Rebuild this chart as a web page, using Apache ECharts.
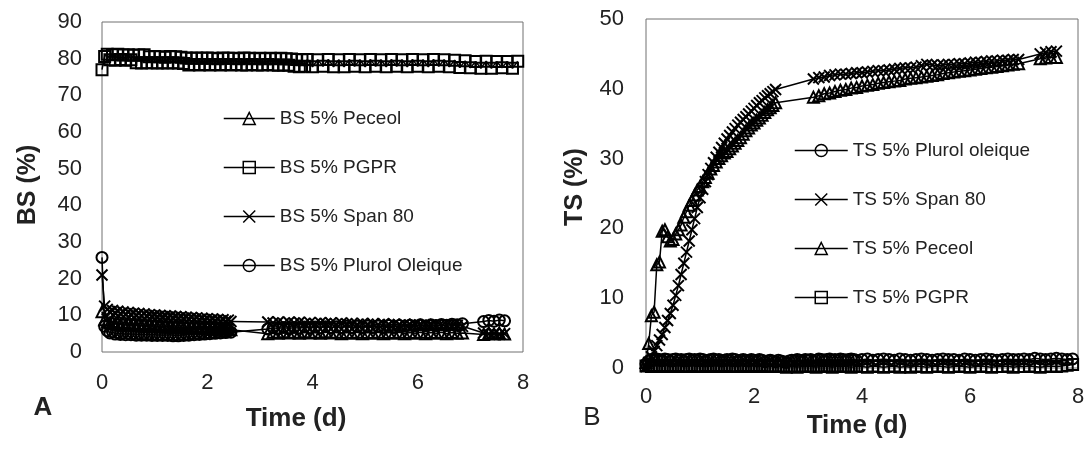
<!DOCTYPE html>
<html>
<head>
<meta charset="utf-8">
<script src="https://cdn.jsdelivr.net/npm/echarts@6/dist/echarts.min.js"></script>
<style>
html,body{margin:0;padding:0;background:#fff;}
#chart{width:1091px;height:450px;}
</style>
</head>
<body>
<div id="chart"></div>
<script>
// ---------- time axes (days) ----------
const tDense = [
  0,0.05,0.1,0.15,0.2,0.25,0.3,0.35,0.4,0.45,
  0.5,0.55,0.6,0.65,0.7,0.75,0.8,0.85,0.9,0.95,
  1,1.05,1.1,1.15,1.2,1.25,1.3,1.35,1.4,1.45,
  1.5,1.55,1.6,1.65,1.7,1.75,1.8,1.85,1.9,1.95,
  2,2.05,2.1,2.15,2.2,2.25,2.3,2.35,2.4,2.45,
  2.5,2.55,2.6,2.65,2.7,2.75,2.8,2.85,2.9,2.95,
  3,3.05,3.1,3.15,3.2,3.25,3.3,3.35,3.4,3.45,
  3.5,3.55,3.6,3.65,3.7,3.75,3.8,3.85,3.9,
  4,4.1,4.2,4.3,4.4,4.5,4.6,4.7,4.8,4.9,
  5,5.1,5.2,5.3,5.4,5.5,5.6,5.7,5.8,5.9,
  6,6.1,6.2,6.3,6.4,6.5,6.6,6.7,6.8,6.9,
  7,7.1,7.2,7.3,7.4,7.5,7.6,7.7,7.8,7.9
];
const tBS = [
  0,0.05,0.1,0.15,0.2,0.25,0.3,0.35,0.4,0.45,
  0.5,0.55,0.6,0.65,0.7,0.75,0.8,0.85,0.9,0.95,
  1,1.05,1.1,1.15,1.2,1.25,1.3,1.35,1.4,1.45,
  1.5,1.55,1.6,1.65,1.7,1.75,1.8,1.85,1.9,1.95,
  2,2.05,2.1,2.15,2.2,2.25,2.3,2.35,2.4,2.45,
  3.15,3.25,3.35,3.45,3.55,3.65,3.75,3.85,3.95,4.05,
  4.15,4.25,4.35,4.45,4.55,4.65,4.75,4.85,4.95,5.05,
  5.15,5.25,5.35,5.45,5.55,5.65,5.75,5.85,5.95,6.05,
  6.15,6.25,6.35,6.45,6.55,6.65,6.75,6.85,
  7.25,7.35,7.45,7.55,7.65
];
const tTS = [
  0,0.05,0.1,0.15,0.2,0.25,0.3,0.35,0.4,0.45,
  0.5,0.55,0.6,0.65,0.7,0.75,0.8,0.85,0.9,0.95,
  1,1.05,1.1,1.15,1.2,1.25,1.3,1.35,1.4,1.45,
  1.5,1.55,1.6,1.65,1.7,1.75,1.8,1.85,1.9,1.95,
  2,2.05,2.1,2.15,2.2,2.25,2.3,2.35,2.4,
  3.1,3.2,3.3,3.4,3.5,3.6,3.7,3.8,3.9,4,
  4.1,4.2,4.3,4.4,4.5,4.6,4.7,4.8,4.9,5,
  5.1,5.2,5.3,5.4,5.5,5.6,5.7,5.8,5.9,6,
  6.1,6.2,6.3,6.4,6.5,6.6,6.7,6.8,6.9,
  7.3,7.4,7.5,7.6
];

// ---------- panel A : BS (%) ----------
const bsPeceol = [
  11.0,8.8,8.2,7.9,8.1,7.7,7.9,7.6,7.8,7.5,
  7.7,7.4,7.6,7.3,7.5,7.2,7.4,7.1,7.3,7.0,
  7.2,6.9,7.1,6.8,7.0,6.8,6.9,6.7,6.9,6.6,
  6.8,6.6,6.8,6.5,6.7,6.5,6.7,6.4,6.6,6.4,
  6.6,6.3,6.5,6.3,6.5,6.2,6.4,6.2,6.4,6.1,
  5.0,5.4,5.1,5.5,5.2,5.4,5.1,5.5,5.2,5.4,
  5.1,5.5,5.2,5.4,5.0,5.3,5.1,5.4,5.0,5.3,
  5.1,5.4,5.0,5.3,5.1,5.4,5.0,5.3,5.1,5.4,
  5.0,5.3,5.1,5.4,5.0,5.3,5.1,5.2,
  4.8,5.1,4.9,5.2,4.9
];
const bsPGPR = [
  77.0,80.6,81.2,79.7,81.1,79.6,81.2,79.8,81.0,79.6,
  81.1,79.7,80.9,78.9,81.0,78.8,81.1,78.9,80.5,78.9,
  80.6,78.8,80.5,78.9,80.4,78.8,80.6,78.9,80.5,78.8,
  80.4,78.7,80.2,78.3,80.1,78.4,80.2,78.3,80.1,78.4,
  80.2,78.3,80.1,78.4,80.0,78.3,80.2,78.4,80.1,78.3,
  80.1,78.4,80.0,78.3,80.2,78.3,80.1,78.4,80.0,78.3,
  80.1,78.3,80.0,78.4,80.1,78.3,80.0,78.2,80.1,78.3,
  80.0,78.2,79.9,77.9,79.8,77.8,79.7,77.9,79.8,
  77.8,79.7,77.9,79.8,77.8,79.7,77.8,79.8,77.9,79.7,
  77.8,79.8,77.9,79.7,77.8,79.8,77.9,79.7,77.8,79.8,
  77.9,79.7,77.8,79.8,77.9,79.7,77.8,79.6,77.6,79.4,
  77.5,79.2,77.4,79.3,77.4,79.2,77.5,79.2,77.4,79.3
];
const bsSpan80 = [
  21.0,12.5,11.6,11.0,11.3,10.7,11.1,10.5,10.9,10.4,
  10.8,10.3,10.6,10.1,10.5,10.0,10.4,9.9,10.2,9.8,
  10.1,9.7,10.0,9.6,9.9,9.5,9.8,9.4,9.7,9.3,
  9.6,9.2,9.5,9.1,9.4,9.0,9.3,8.9,9.2,8.8,
  9.1,8.7,9.0,8.6,8.9,8.5,8.8,8.4,8.7,8.3,
  8.2,7.9,8.2,7.8,8.1,7.9,8.1,7.8,8.0,7.7,
  8.0,7.8,7.9,7.6,7.9,7.7,7.8,7.5,7.8,7.6,
  7.7,7.4,7.7,7.5,7.6,7.3,7.6,7.4,7.5,7.2,
  7.5,7.3,7.4,7.1,7.4,7.2,7.3,7.0,
  5.2,4.9,5.1,4.8,5.0
];
const bsPlurol = [
  25.8,7.0,5.8,5.2,5.5,4.9,5.3,4.8,5.2,4.7,
  5.1,4.7,5.0,4.6,5.0,4.6,4.9,4.6,4.9,4.5,
  4.9,4.5,4.8,4.5,4.8,4.5,4.8,4.4,4.7,4.4,
  4.8,4.5,4.9,4.6,5.0,4.7,5.1,4.8,5.2,4.9,
  5.3,5.0,5.4,5.1,5.5,5.2,5.6,5.3,5.7,5.4,
  6.3,6.6,6.4,6.7,6.4,6.7,6.5,6.8,6.5,6.8,
  6.6,6.9,6.6,6.9,6.7,7.0,6.7,7.0,6.8,7.1,
  6.8,7.1,6.9,7.2,6.9,7.2,7.0,7.3,7.1,7.4,
  7.1,7.4,7.2,7.5,7.3,7.6,7.4,7.7,
  8.3,8.6,8.4,8.7,8.5
];

// ---------- panel B : TS (%) ----------
const tsPlurol = [
  0.6,1.0,1.2,1.1,1.3,1.2,1.1,1.3,1.2,1.0,
  1.2,1.3,1.1,1.2,1.0,1.2,1.3,1.1,1.2,1.1,
  1.3,1.2,1.0,1.1,1.2,1.3,1.1,1.2,1.0,1.1,
  1.2,1.1,1.3,1.2,1.0,1.1,1.2,1.1,1.0,1.2,
  1.1,1.0,1.2,1.1,0.9,1.0,1.1,1.0,0.9,1.1,
  1.0,0.9,0.8,1.0,1.1,1.0,1.2,1.1,1.0,1.2,
  1.1,1.2,1.0,1.1,1.3,1.2,1.1,1.2,1.3,1.1,
  1.2,1.1,1.3,1.2,1.1,1.2,1.3,1.2,1.1,
  1.2,1.3,1.1,1.2,1.3,1.2,1.1,1.3,1.2,1.1,
  1.2,1.3,1.2,1.1,1.2,1.3,1.2,1.2,1.1,1.3,
  1.2,1.1,1.2,1.3,1.2,1.1,1.2,1.3,1.2,1.2,
  1.3,1.2,1.4,1.3,1.2,1.3,1.4,1.3,1.2,1.3
];
const tsSpan80 = [
  0.2,0.8,1.6,2.4,3.2,4.0,4.8,5.8,6.8,7.8,
  9.0,10.4,11.8,13.4,15.0,16.6,18.2,19.8,21.4,23.0,
  24.4,25.6,26.7,27.7,28.6,29.4,30.2,30.9,31.6,32.2,
  32.8,33.3,33.8,34.3,34.8,35.2,35.6,36.0,36.4,36.8,
  37.2,37.6,38.0,38.3,38.7,39.0,39.3,39.6,39.9,
  41.4,41.6,41.7,41.9,42.0,42.1,42.1,42.2,42.3,42.3,
  42.4,42.5,42.6,42.6,42.7,42.8,42.9,43.0,43.0,43.1,
  43.3,43.5,43.4,43.3,43.4,43.5,43.5,43.6,43.6,43.7,
  43.8,43.8,43.9,44.0,44.0,44.1,44.1,44.2,44.2,
  45.0,45.2,45.3,45.4
];
const tsPeceol = [
  0.8,3.5,7.5,8.0,14.8,15.2,19.6,19.8,18.8,18.2,
  18.4,19.2,19.8,20.5,21.6,22.4,23.3,24.0,24.8,25.5,
  26.0,26.7,27.3,27.9,28.5,29.0,29.5,30.0,30.4,30.8,
  31.0,31.4,31.8,32.2,32.6,33.0,33.5,34.0,34.4,34.8,
  35.1,35.5,35.8,36.2,36.6,37.0,37.3,37.6,38.0,
  38.8,39.0,39.3,39.4,39.6,39.8,39.9,40.1,40.2,40.4,
  40.5,40.6,40.8,40.9,41.0,41.1,41.2,41.4,41.5,41.6,
  41.7,41.8,41.9,42.0,42.2,42.3,42.4,42.5,42.6,42.7,
  42.8,42.9,43.0,43.1,43.2,43.3,43.4,43.5,43.6,
  44.3,44.4,44.5,44.5
];
const tsPGPR = [
  0.3,0.4,0.2,0.3,0.4,0.2,0.3,0.2,0.4,0.3,
  0.2,0.3,0.4,0.2,0.3,0.3,0.2,0.4,0.3,0.2,
  0.3,0.2,0.4,0.3,0.2,0.3,0.4,0.2,0.3,0.2,
  0.4,0.3,0.2,0.3,0.2,0.4,0.3,0.2,0.3,0.4,
  0.2,0.3,0.2,0.4,0.3,0.2,0.3,0.2,0.3,0.2,
  0.3,0.2,0.1,0.2,0.3,0.2,0.1,0.2,0.3,0.2,
  0.2,0.3,0.2,0.1,0.2,0.3,0.2,0.3,0.2,0.1,
  0.2,0.3,0.2,0.2,0.3,0.2,0.1,0.2,0.3,
  0.2,0.1,0.3,0.2,0.1,0.2,0.3,0.1,0.2,0.1,
  0.3,0.2,0.1,0.2,0.3,0.2,0.1,0.2,0.3,0.2,
  0.1,0.2,0.3,0.2,0.1,0.2,0.2,0.3,0.1,0.2,
  0.2,0.3,0.2,0.1,0.2,0.3,0.2,0.3,0.4,0.5
];

const legendA = ['BS 5% Peceol','BS 5% PGPR','BS 5% Span 80','BS 5% Plurol Oleique'];
const legendB = ['TS 5% Plurol oleique','TS 5% Span 80','TS 5% Peceol','TS 5% PGPR'];

// ---------- build ----------
const FONT = '"Liberation Sans", Arial, sans-serif';
const INK = '#222';
const CROSS = 'path://M0,0L10,10M10,0L0,10';
const zip = (t, v) => t.map((x, i) => [x, v[i]]);

function mk(name, t, v, symbol, gi) {
  return {
    type: 'line', name, data: zip(t, v),
    xAxisIndex: gi, yAxisIndex: gi,
    symbol, symbolSize: 11, showSymbol: true, showAllSymbol: true,
    connectNulls: true, silent: true,
    lineStyle: { color: '#000', width: 1.5 },
    itemStyle: { color: 'rgba(0,0,0,0)', borderColor: '#000', borderWidth: 2 },
    emphasis: { disabled: true }
  };
}

function xAx(gi) {
  return {
    type: 'value', gridIndex: gi, min: 0, max: 8, interval: 2,
    axisLine: { show: false }, axisTick: { show: false }, splitLine: { show: false },
    axisLabel: { color: INK, fontSize: 22, fontFamily: FONT, margin: gi === 0 ? 20 : 18 }
  };
}
function yAx(gi, max) {
  return {
    type: 'value', gridIndex: gi, min: 0, max, interval: 10,
    axisLine: { show: false }, axisTick: { show: false }, splitLine: { show: false },
    axisLabel: { color: INK, fontSize: 22, fontFamily: FONT, margin: gi === 0 ? 20 : 22 }
  };
}
function lg(names, left, top, w) {
  return {
    data: names, orient: 'vertical', left, top,
    itemWidth: w, itemHeight: 15, itemGap: 30,
    selectedMode: false,
    itemStyle: { borderWidth: 1.5 },
    lineStyle: { width: 1.5 },
    textStyle: { color: INK, fontSize: 19, fontFamily: FONT, lineHeight: 15 }
  };
}
function txt(text, x, y, size, bold, rot) {
  return {
    type: 'text', x, y, rotation: rot || 0, silent: true,
    style: { text, fill: INK, font: (bold ? 'bold ' : '') + size + 'px ' + FONT,
             align: 'center', verticalAlign: 'middle' }
  };
}

const chart = echarts.init(document.getElementById('chart'));
chart.setOption({
  animation: false,
  backgroundColor: '#fff',
  grid: [
    { left: 102, top: 22, width: 421, height: 330, show: true, borderColor: '#707070', borderWidth: 1, backgroundColor: 'transparent' },
    { left: 646, top: 19, width: 432, height: 349, show: true, borderColor: '#707070', borderWidth: 1, backgroundColor: 'transparent' }
  ],
  xAxis: [xAx(0), xAx(1)],
  yAxis: [yAx(0, 90), yAx(1, 50)],
  legend: [lg(legendA, 218, 104, 51), lg(legendB, 789, 136, 53)],
  series: [
    mk(legendA[0], tBS, bsPeceol, 'triangle', 0),
    mk(legendA[1], tDense, bsPGPR, 'rect', 0),
    mk(legendA[2], tBS, bsSpan80, CROSS, 0),
    mk(legendA[3], tBS, bsPlurol, 'circle', 0),
    mk(legendB[0], tDense, tsPlurol, 'circle', 1),
    mk(legendB[1], tTS, tsSpan80, CROSS, 1),
    mk(legendB[2], tTS, tsPeceol, 'triangle', 1),
    mk(legendB[3], tDense, tsPGPR, 'rect', 1)
  ],
  graphic: [
    txt('Time (d)', 296, 419, 26, true),
    txt('BS (%)', 28, 185, 25, true, Math.PI / 2),
    txt('A', 43, 408, 26, true),
    txt('Time (d)', 857, 426, 26, true),
    txt('TS (%)', 575, 187, 25, true, Math.PI / 2),
    txt('B', 592, 418, 26, false)
  ]
});
</script>
</body>
</html>
